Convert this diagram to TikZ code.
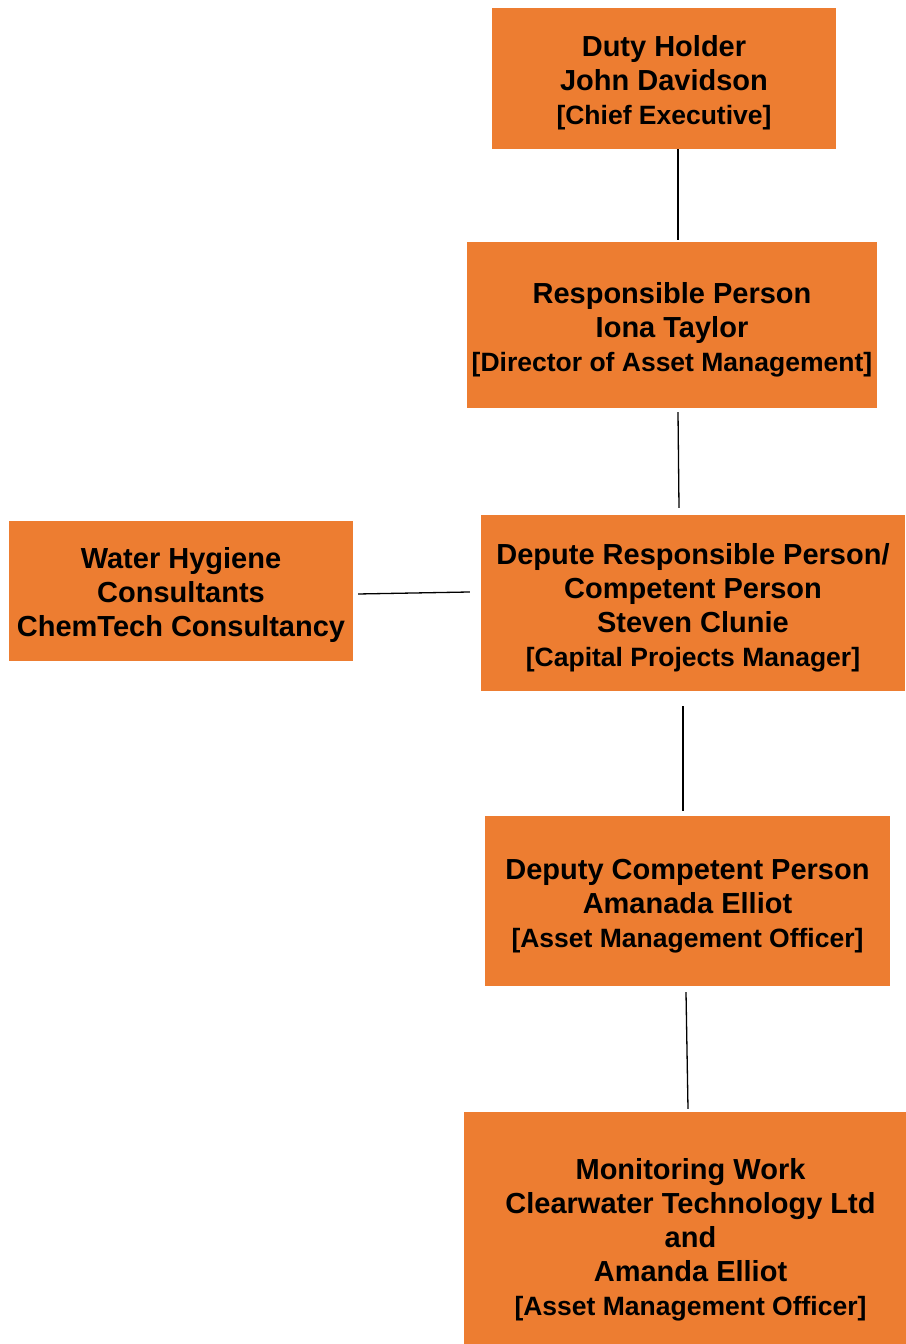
\documentclass[tikz,border=0pt]{standalone}
\usepackage{fontspec}
\setmainfont{Liberation Sans}
\usetikzlibrary{positioning}

\definecolor{postorange}{RGB}{237,125,49}
\newcommand{\jobtitle}[1]{{\fontsize{26.5}{34}\selectfont #1}}
\newcommand{\toprule}{\rule{0pt}{30pt}}

\tikzset{
  post/.style={fill=postorange, draw=none, inner sep=0pt, align=center,
    font=\bfseries\fontsize{29}{34}\selectfont},
  link/.style={line width=1.3pt, black}
}

\begin{document}
\begin{tikzpicture}[x=1pt, y=1pt]
  \useasboundingbox (0,0) rectangle (905,1344);

  % Posts
  \node[post, minimum width=344, minimum height=141] (duty) at (664,1265.5)
    {\toprule Duty Holder\\John Davidson\\\jobtitle{[Chief Executive]}};
  \node[post, minimum width=410, minimum height=166] (resp) at (672,1019)
    {\toprule Responsible Person\\Iona Taylor\\\jobtitle{[Director of Asset Management]}};
  \node[post, minimum width=424, minimum height=176] (depute) at (693,741)
    {\toprule Depute Responsible Person/\\Competent Person\\Steven Clunie\\\jobtitle{[Capital Projects Manager]}};
  \node[post, minimum width=344, minimum height=140] (water) at (181,753)
    {\toprule Water Hygiene\\Consultants\\ChemTech Consultancy};
  \node[post, minimum width=405, minimum height=170] (deputy) at (687.5,443)
    {\toprule Deputy Competent Person\\Amanada Elliot\\\jobtitle{[Asset Management Officer]}};
  \node[post, minimum width=453, minimum height=246] (monitor) at (690.5,109)
    {\toprule Monitoring Work\\Clearwater Technology Ltd\\and\\Amanda Elliot\\\jobtitle{[Asset Management Officer]}};

  % Reporting lines
  \draw[link] ([xshift=14]duty.south) -- ([xshift=6,yshift=2]resp.north);
  \draw[link] ([xshift=6,yshift=-4]resp.south) -- ([xshift=-14,yshift=7]depute.north);
  \draw[link] ([xshift=-10,yshift=-15]depute.south) -- ([xshift=-4.5,yshift=5]deputy.north);
  \draw[link] ([xshift=-1.5,yshift=-6]deputy.south) -- ([xshift=-2.5,yshift=3]monitor.north);
  \draw[link] ([xshift=5,yshift=-3]water.east) -- ([xshift=-11,yshift=11]depute.west);
\end{tikzpicture}
\end{document}
